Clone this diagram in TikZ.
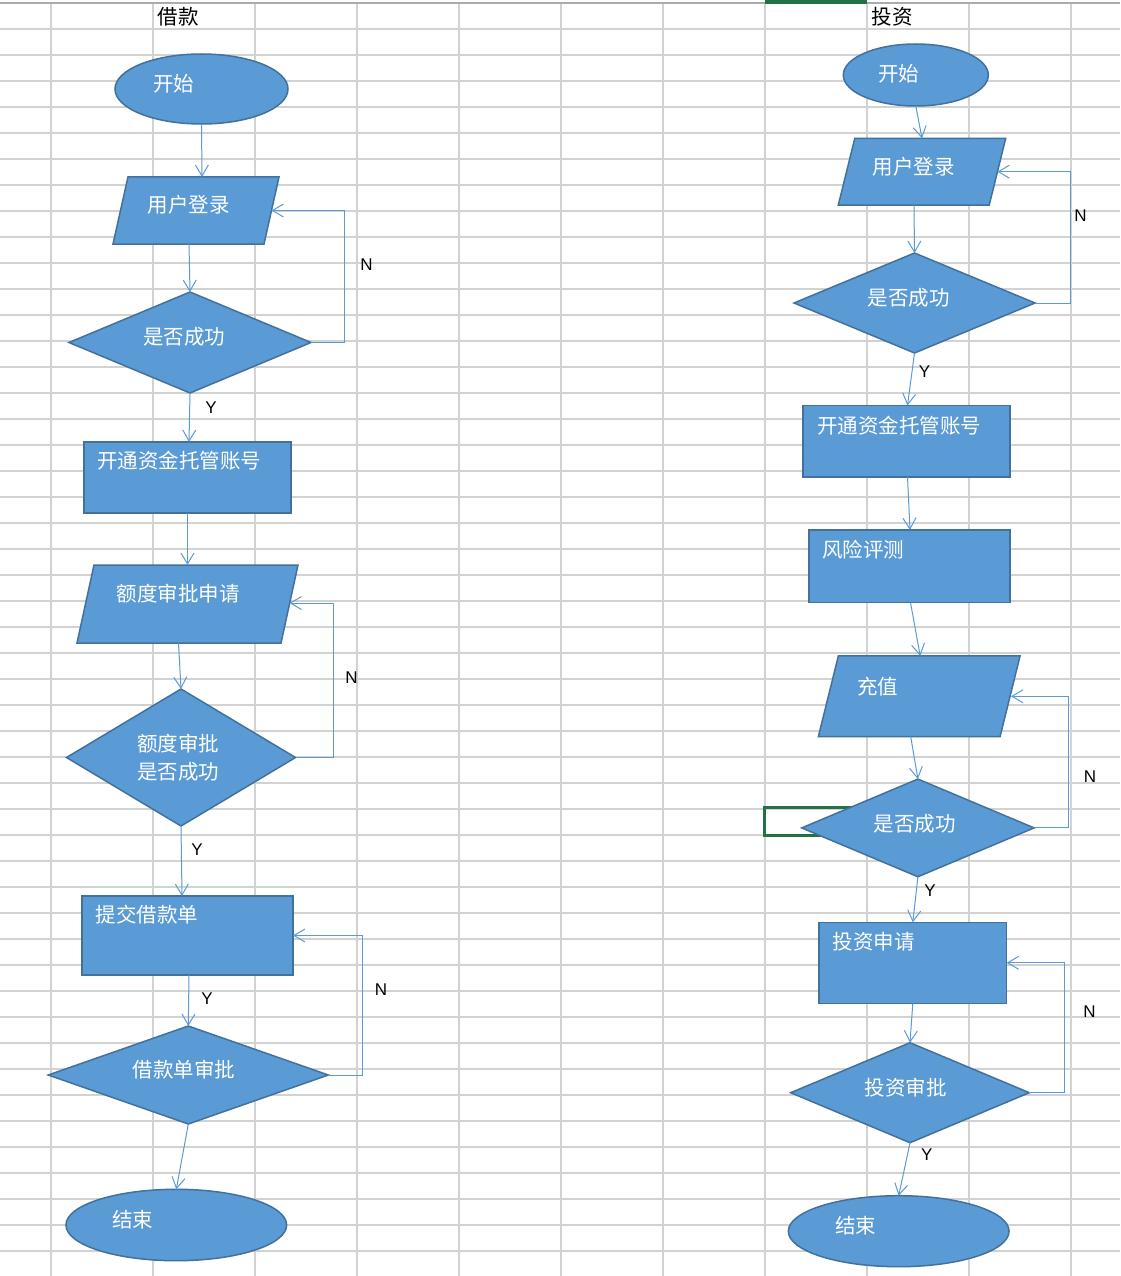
\documentclass[tikz,border=0pt]{standalone}
\usepackage{fontspec}
\usetikzlibrary{shapes.geometric,arrows.meta}
\newfontfamily\cjk{Noto Sans CJK SC}
\newfontfamily\lab{Liberation Sans}
\definecolor{shapefill}{HTML}{5B9BD5}
\definecolor{shapeline}{HTML}{41719C}
\definecolor{connc}{HTML}{5B9BD5}
\definecolor{gridc}{HTML}{D2D2D2}
\definecolor{gridtop}{HTML}{ABABAB}
\definecolor{xlgreen}{HTML}{217346}
\tikzset{
  shp/.style={draw=shapeline, fill=shapefill, line width=1.5pt, inner sep=0pt, outer sep=0pt},
  ell/.style={shp, ellipse},
  dia/.style={shp, diamond},
  box/.style={shp, rectangle},
  pbox/.style={rectangle, inner sep=0pt, outer sep=0pt},
  intext/.style={text=white, font=\cjk\fontsize{20.5}{28}\selectfont, inner sep=0pt},
  titletext/.style={text=black, font=\cjk\fontsize{20.5}{24}\selectfont, inner sep=0pt},
  yn/.style={text=black, font=\lab\fontsize{17}{20}\selectfont, inner sep=0pt},
  conn/.style={draw=connc, line width=1pt, -{Straight Barb[length=11pt,width=13pt]}},
}
\newcommand\mkpara[6]{%
  \node[pbox, minimum width=#4, minimum height=#5] (#1) at (#2,#3) {};
  \path[shp] ([xshift=#6]#1.north west) -- (#1.north east) -- ([xshift=-#6]#1.south east) -- (#1.south west) -- cycle;
}
\begin{document}
\begin{tikzpicture}[x=1pt,y=-1pt]
\useasboundingbox (0,0) rectangle (1120,1276);
\fill[white] (0,0) rectangle (1120,1276);
% spreadsheet grid
\foreach \j in {1,...,48} \draw[gridc, line width=2pt] (0,{2.7+26*\j}) -- (1120,{2.7+26*\j});
\foreach \i in {0,...,10} \draw[gridc, line width=2pt] ({51+102*\i},2.7) -- ({51+102*\i},1276);
\draw[gridtop, line width=2pt] (0,2.7) -- (1120,2.7);
\fill[xlgreen] (765,0) rectangle (867,4);
\draw[xlgreen, line width=3pt] (764.5,807.5) rectangle (867,835.5);

% titles
\node[titletext] (t1) at (178,16.5) {借款};
\node[titletext] (t2) at (892,16.5) {投资};

% ---------- left column ----------
\node[ell, minimum width=173, minimum height=70] (E1) at (201.5,89) {};
\mkpara{P1}{196}{210.5}{166}{67}{15}
\node[dia, minimum width=242, minimum height=101] (D1) at (190,342.5) {};
\node[box, minimum width=207, minimum height=71] (R1) at (187.5,477.5) {};
\mkpara{P2}{187.5}{604}{221}{78}{17}
\node[dia, minimum width=229, minimum height=137] (D2) at (181,757.5) {};
\node[box, minimum width=211, minimum height=79] (R2) at (187.5,935.5) {};
\node[dia, minimum width=280, minimum height=98] (D3) at (188.3,1075) {};
\node[ell, minimum width=220.7, minimum height=71.4] (E2) at (176.3,1225) {};

\node[intext] (E1t) at (173.5,83.3) {开始};
\node[intext] (P1t) at (188.5,204.7) {用户登录};
\node[intext] (D1t) at (184,336.5) {是否成功};
\node[intext] (R1t) at (179,461) {开通资金托管账号};
\node[intext] (P2t) at (178.2,593.3) {额度审批申请};
\node[intext, align=center] (D2t) at (178,758) {额度审批\\是否成功};
\node[intext] (R2t) at (147,915) {提交借款单};
\node[intext] (D3t) at (184.2,1069.5) {借款单审批};
\node[intext] (E2t) at (132.8,1219.7) {结束};

\draw[conn] (E1.south) -- ([xshift=6]P1.north);
\draw[conn] ([xshift=-7]P1.south) -- (D1.north);
\draw[conn] (D1.south) -- ([xshift=1.5]R1.north);
\draw[conn] (R1.south) -- (P2.north);
\draw[conn] ([xshift=-9]P2.south) -- (D2.north);
\draw[conn] (D2.south) -- ([xshift=-5.5]R2.north);
\draw[conn] ([xshift=1.5]R2.south) -- (D3.north);
\draw[conn] (D3.south) -- (E2.north);

\draw[conn] (D1.east) -- ++(33,0) |- ([xshift=-7.5]P1.east);
\draw[conn] (D2.east) -- ++(38,0) |- ([xshift=-8.5,yshift=1]P2.east);
\draw[conn] (D3.east) -- ++(34,0) |- (R2.east);

\node[yn] (n1) at (366.5,265) {N};
\node[yn] (y1) at (211,407.5) {Y};
\node[yn] (n2) at (351.5,678) {N};
\node[yn] (y2) at (197,850) {Y};
\node[yn] (y3) at (207,998.5) {Y};
\node[yn] (n3) at (381,989.5) {N};

% ---------- right column ----------
\node[ell, minimum width=145, minimum height=62] (E3) at (915.8,75) {};
\mkpara{P3}{922}{171.7}{167.4}{66.7}{16.5}
\node[dia, minimum width=241, minimum height=100] (D4) at (914.5,303) {};
\node[box, minimum width=207, minimum height=71.5] (R3) at (906.5,441.2) {};
\node[box, minimum width=201, minimum height=72.7] (R4) at (909.5,566.3) {};
\mkpara{P4}{919.2}{696.3}{201.7}{80.7}{20}
\node[dia, minimum width=232.3, minimum height=97.7] (D5) at (917.9,827.9) {};
\node[box, minimum width=187.7, minimum height=81] (R5) at (912.8,962.8) {};
\node[dia, minimum width=238.6, minimum height=100] (D6) at (910,1092.7) {};
\node[ell, minimum width=220.7, minimum height=71] (E4) at (898.7,1231.2) {};

\node[intext] (E3t) at (898.7,73.3) {开始};
\node[intext] (P3t) at (913.5,167) {用户登录};
\node[intext] (D4t) at (908.8,298) {是否成功};
\node[intext] (R3t) at (899,425.8) {开通资金托管账号};
\node[intext] (R4t) at (863,550) {风险评测};
\node[intext] (P4t) at (877.8,686.3) {充值};
\node[intext] (D5t) at (914.7,823.3) {是否成功};
\node[intext] (R5t) at (873.7,941.5) {投资申请};
\node[intext] (D6t) at (905.8,1087.5) {投资审批};
\node[intext] (E4t) at (855.5,1225.8) {结束};

\draw[conn] (E3.south) -- (P3.north);
\draw[conn] ([xshift=-8]P3.south) -- (D4.north);
\draw[conn] (D4.south) -- ([xshift=1]R3.north);
\draw[conn] ([xshift=1]R3.south) -- ([xshift=0.5]R4.north);
\draw[conn] ([xshift=1]R4.south) -- ([xshift=1]P4.north);
\draw[conn] ([xshift=-8.5]P4.south) -- (D5.north);
\draw[conn] (D5.south) -- (R5.north);
\draw[conn] (R5.south) -- (D6.north);
\draw[conn] (D6.south) -- (E4.north);

\draw[conn] (D4.east) -- ++(35.5,0) |- ([xshift=-8.3]P3.east);
\draw[conn] (D5.east) -- ++(34,0) |- ([xshift=-9]P4.east);
\draw[conn] (D6.east) -- ++(34.7,0) |- (R5.east);

\node[yn] (n4) at (1080.5,215.5) {N};
\node[yn] (y4) at (924.5,371.7) {Y};
\node[yn] (n5) at (1090,777) {N};
\node[yn] (y5) at (930,890.5) {Y};
\node[yn] (n6) at (1089.5,1011.7) {N};
\node[yn] (y6) at (926.7,1154.3) {Y};
\end{tikzpicture}
\end{document}
